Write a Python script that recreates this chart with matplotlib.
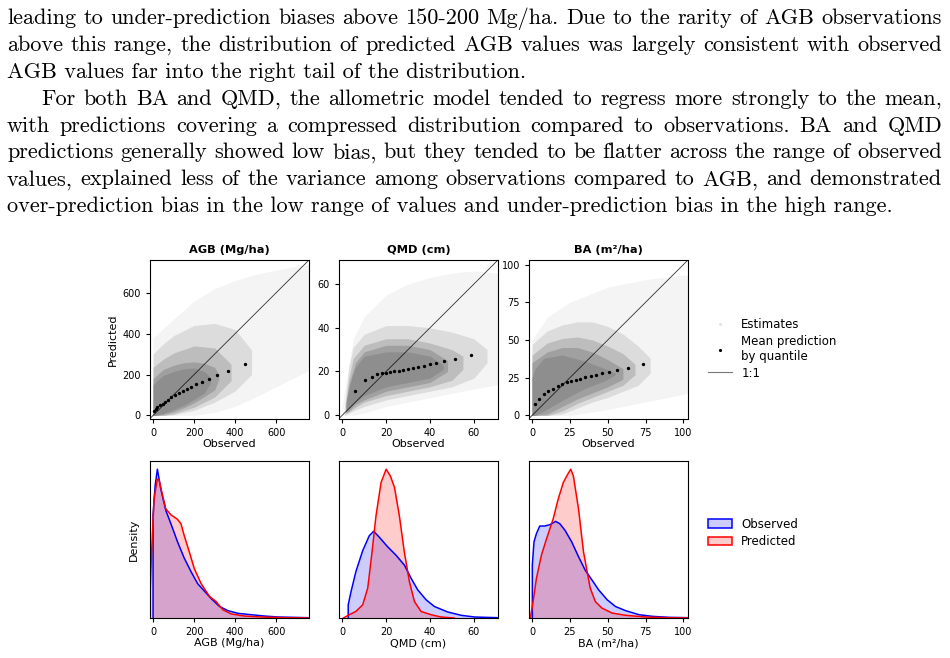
import matplotlib
matplotlib.use('Agg')
import matplotlib.pyplot as plt
from matplotlib.lines import Line2D
from matplotlib.patches import Patch

W, H = 950, 658

# ---------------- paragraph text above the figure ----------------
text_lines = [
    "leading to under-prediction biases above 150-200 Mg/ha. Due to the rarity of AGB observations",
    "above this range, the distribution of predicted AGB values was largely consistent with observed",
    "AGB values far into the right tail of the distribution.",
    "For both BA and QMD, the allometric model tended to regress more strongly to the mean,",
    "with predictions covering a compressed distribution compared to observations.  BA and QMD",
    "predictions generally showed low bias, but they tended to be flatter across the range of observed",
    "values, explained less of the variance among observations compared to AGB, and demonstrated",
    "over-prediction bias in the low range of values and under-prediction bias in the high range.",
]
text_justified = [True, True, False, True, True, True, True, False]
text_indent = [0, 0, 0, 1, 0, 0, 0, 0]

# ---------------- panel info ----------------
titles = ["AGB (Mg/ha)", "QMD (cm)", "BA (m²/ha)"]
limits = [(-15, 760), (-1.5, 71), (-2, 103)]
ticks = [[0, 200, 400, 600], [0, 20, 40, 60], [0, 25, 50, 75, 100]]

# mean prediction by quantile (black dots)
agb_mean_obs = [5, 13, 21, 33, 46, 59, 74, 88, 108, 126, 144, 164, 186, 211, 239, 273, 314, 366, 450]
agb_mean_pred = [23, 31, 39, 49, 58, 66, 75, 88, 101, 110, 120, 130, 141, 154, 165, 180, 196, 217, 250]
qmd_mean_obs = [5.8, 10.4, 13.4, 15.7, 18.0, 20.0, 21.9, 23.8, 25.7, 27.7, 29.9, 32.3, 34.7, 37.3, 40.1, 42.9, 46.6, 51.3, 58.9]
qmd_mean_pred = [11.1, 15.9, 17.7, 18.9, 19.5, 19.5, 19.7, 20.0, 20.3, 20.8, 21.1, 21.4, 22.0, 22.6, 23.3, 24.1, 24.8, 25.9, 27.7]
ba_mean_obs = [1.8, 4.4, 7.6, 10.7, 13.8, 16.9, 20.0, 22.9, 26.0, 29.1, 32.0, 35.3, 38.7, 42.2, 46.2, 50.7, 56.0, 63.1, 73.5]
ba_mean_pred = [7.7, 11.1, 14.2, 16.1, 17.7, 19.2, 20.6, 22.3, 23.0, 23.7, 24.3, 25.2, 26.1, 26.8, 27.9, 29.0, 30.1, 31.6, 34.3]

# extent of the estimate clouds, from sparse outskirts to dense centre
agb_sparse_x = [0, 100, 200, 300, 400, 500, 600, 700, 760]
agb_sparse_lo = [0, 0, 0, 15, 45, 90, 140, 190, 220]
agb_sparse_hi = [380, 470, 560, 620, 660, 690, 710, 730, 735]
agb_light_x = [0, 50, 100, 200, 300, 400, 480]
agb_light_lo = [0, 0, 3, 25, 65, 120, 200]
agb_light_hi = [300, 350, 390, 440, 450, 420, 320]
agb_mid_x = [0, 50, 100, 200, 300, 380]
agb_mid_lo = [0, 0, 8, 40, 90, 170]
agb_mid_hi = [235, 275, 305, 340, 330, 250]
agb_core_x = [0, 50, 100, 150, 200, 250, 300, 320]
agb_core_lo = [0, 5, 18, 38, 62, 92, 125, 175]
agb_core_hi = [180, 225, 245, 258, 262, 255, 235, 200]
agb_dense_x = [0, 25, 50, 100, 150, 200, 250, 280]
agb_dense_lo = [0, 3, 10, 28, 50, 78, 110, 160]
agb_dense_hi = [150, 175, 195, 215, 228, 232, 215, 185]

qmd_sparse_x = [0, 5, 10, 20, 30, 40, 50, 60, 71]
qmd_sparse_lo = [0, 0, 1, 4, 6, 8, 10, 12, 14]
qmd_sparse_hi = [5, 35, 45, 55, 60, 63, 65, 66, 65]
qmd_light_x = [1, 3, 5, 10, 20, 30, 40, 50, 60, 66]
qmd_light_lo = [0, 1, 2, 4, 7, 9, 11, 13, 17, 24]
qmd_light_hi = [4, 22, 31, 37, 41, 41, 40, 38, 35, 30]
qmd_mid_x = [1.5, 3, 5, 10, 20, 30, 40, 50, 55]
qmd_mid_lo = [1, 1.5, 3, 6, 9, 11, 13, 16, 21]
qmd_mid_hi = [5, 17, 26, 32, 35, 35, 33, 30, 27]
qmd_core_x = [1.5, 3, 6, 10, 20, 30, 40, 48]
qmd_core_lo = [1, 2, 5, 7, 11, 13, 15, 20]
qmd_core_hi = [5, 14, 24, 29, 32, 32, 30, 25]
qmd_dense_x = [2, 4, 6, 10, 20, 30, 40, 46]
qmd_dense_lo = [2, 4, 6, 9, 13, 15, 17, 21]
qmd_dense_hi = [7, 16, 22, 27, 29, 29, 27, 23]

ba_sparse_x = [0, 10, 25, 50, 75, 100, 103]
ba_sparse_lo = [0, 0, 0, 4, 9, 14, 15]
ba_sparse_hi = [50, 65, 75, 85, 90, 93, 93]
ba_light_x = [0, 10, 20, 30, 40, 50, 60, 70, 78]
ba_light_lo = [0, 0, 1, 5, 9, 12, 16, 20, 28]
ba_light_hi = [47, 56, 60, 62, 62, 59, 54, 46, 38]
ba_mid_x = [0, 10, 20, 30, 40, 50, 60, 68]
ba_mid_lo = [0, 0, 3, 8, 12, 16, 20, 27]
ba_mid_hi = [40, 48, 51, 52, 50, 46, 41, 34]
ba_core_x = [0, 10, 20, 30, 40, 50, 60]
ba_core_lo = [0, 1, 6, 11, 15, 19, 24]
ba_core_hi = [35, 42, 45, 45, 42, 37, 31]
ba_dense_x = [0, 2, 8, 20, 35, 48, 55]
ba_dense_lo = [0, 0, 3, 10, 18, 23, 27]
ba_dense_hi = [25, 31, 38, 40, 36, 31, 28]

# density curves (relative height)
agb_obs_x = [0, 0, 10, 21, 38, 62, 87, 119, 152, 185, 217, 250, 283, 324, 365, 414, 479, 544, 610, 757]
agb_obs_y = [0, 0.69, 0.885, 0.995, 0.86, 0.72, 0.63, 0.51, 0.40, 0.31, 0.23, 0.18, 0.13, 0.077, 0.049, 0.031, 0.022, 0.013, 0.0066, 0.002]
agb_pred_x = [-25, -16, -8, 5, 21, 29, 46, 62, 87, 119, 136, 152, 177, 201, 234, 275, 307, 340, 381, 446, 528, 643, 757]
agb_pred_y = [0, 0.11, 0.42, 0.80, 0.93, 0.925, 0.82, 0.73, 0.69, 0.66, 0.63, 0.55, 0.44, 0.33, 0.23, 0.144, 0.11, 0.055, 0.027, 0.013, 0.0066, 0.002, 0]

qmd_obs_x = [2.7, 2.7, 4, 6.2, 9.3, 12.3, 14.3, 16.9, 20.7, 24.5, 28.3, 31.4, 34.4, 38.2, 42, 48.1, 54.2, 60.3, 71]
qmd_obs_y = [0, 0.088, 0.177, 0.31, 0.45, 0.55, 0.58, 0.54, 0.476, 0.42, 0.354, 0.265, 0.188, 0.122, 0.077, 0.04, 0.018, 0.0066, 0.002]
qmd_pred_x = [0.5, 3.2, 6.2, 9.3, 11.6, 13.4, 15.4, 17.7, 20, 21.9, 23.8, 26, 28.3, 30.6, 32.9, 35.9, 40.5, 45, 51]
qmd_pred_y = [0, 0.022, 0.044, 0.088, 0.2, 0.42, 0.686, 0.907, 0.995, 0.95, 0.874, 0.686, 0.44, 0.243, 0.11, 0.044, 0.022, 0.0066, 0]

ba_obs_x = [0.2, 0.2, 1.3, 2.9, 5.1, 8.4, 11.8, 15.6, 18.4, 21.8, 26.2, 30.7, 35.1, 39.6, 44, 49.6, 55.1, 61.8, 70.7, 79.5, 90.7, 103.5]
ba_obs_y = [0, 0.354, 0.509, 0.564, 0.615, 0.615, 0.624, 0.646, 0.63, 0.586, 0.509, 0.41, 0.32, 0.254, 0.188, 0.122, 0.077, 0.049, 0.022, 0.011, 0.0044, 0.002]
ba_pred_x = [-1.1, 0.7, 2.9, 6.2, 9.6, 14, 17.3, 20.7, 23.6, 25.6, 27.3, 30.7, 34, 38.4, 41.8, 46.2, 52.9, 61.8, 75.1, 88.4, 103.5]
ba_pred_y = [0, 0.11, 0.265, 0.42, 0.53, 0.664, 0.796, 0.907, 0.962, 0.995, 0.95, 0.73, 0.442, 0.2, 0.11, 0.066, 0.033, 0.018, 0.0066, 0.002, 0]

mean_obs = [agb_mean_obs, qmd_mean_obs, ba_mean_obs]
mean_pred = [agb_mean_pred, qmd_mean_pred, ba_mean_pred]
clouds = [
    [(agb_sparse_x, agb_sparse_lo, agb_sparse_hi), (agb_light_x, agb_light_lo, agb_light_hi),
     (agb_mid_x, agb_mid_lo, agb_mid_hi), (agb_core_x, agb_core_lo, agb_core_hi),
     (agb_dense_x, agb_dense_lo, agb_dense_hi)],
    [(qmd_sparse_x, qmd_sparse_lo, qmd_sparse_hi), (qmd_light_x, qmd_light_lo, qmd_light_hi),
     (qmd_mid_x, qmd_mid_lo, qmd_mid_hi), (qmd_core_x, qmd_core_lo, qmd_core_hi),
     (qmd_dense_x, qmd_dense_lo, qmd_dense_hi)],
    [(ba_sparse_x, ba_sparse_lo, ba_sparse_hi), (ba_light_x, ba_light_lo, ba_light_hi),
     (ba_mid_x, ba_mid_lo, ba_mid_hi), (ba_core_x, ba_core_lo, ba_core_hi),
     (ba_dense_x, ba_dense_lo, ba_dense_hi)],
]
cloud_colors = ["#f4f4f4", "#dcdcdc", "#bdbdbd", "#a0a0a0", "#8e8e8e"]
dens_obs = [(agb_obs_x, agb_obs_y), (qmd_obs_x, qmd_obs_y), (ba_obs_x, ba_obs_y)]
dens_pred = [(agb_pred_x, agb_pred_y), (qmd_pred_x, qmd_pred_y), (ba_pred_x, ba_pred_y)]

fig = plt.figure(figsize=(W / 100, H / 100), dpi=100)

# ---------------- paragraph ----------------
serif = ['cmr10', 'DejaVu Serif']
text_size = 16.0
renderer = fig.canvas.get_renderer()
for i, line in enumerate(text_lines):
    y = 1 - (24 + i * 26.9) / H
    x0 = 7 + 34 * text_indent[i]
    x1 = 942
    if text_justified[i]:
        words = line.split()
        ts = [fig.text(0, y, w, fontsize=text_size, family=serif, va='baseline') for w in words]
        widths = [t.get_window_extent(renderer).width for t in ts]
        gap = (x1 - x0 - sum(widths)) / (len(words) - 1)
        x = x0
        for t, w in zip(ts, widths):
            t.set_x(x / W)
            x += w + gap
    else:
        fig.text(x0 / W, y, line, fontsize=text_size, family=serif, va='baseline')

# ---------------- panels ----------------
lefts = [150, 339, 529]
pw = 159
for i in range(3):
    lo, hi = limits[i]
    # scatter panel
    ax = fig.add_axes([lefts[i] / W, 1 - 418.5 / H, pw / W, 158.5 / H])
    for (cx, clo, chi), col in zip(clouds[i], cloud_colors):
        ax.fill_between(cx, clo, chi, color=col, lw=0, zorder=1)
    ax.plot([lo, hi], [lo, hi], color='k', lw=0.6, alpha=0.8, zorder=2)
    ax.plot(mean_obs[i], mean_pred[i], ls='', marker='o', ms=1.4, color='k', zorder=3)
    ax.set_xlim(lo, hi)
    ax.set_ylim(lo, hi)
    ax.set_xticks(ticks[i])
    ax.set_yticks(ticks[i])
    ax.tick_params(labelsize=7, length=3, width=0.8)
    ax.set_title(titles[i], fontsize=8.2, fontweight='bold', pad=5)
    ax.set_xlabel("Observed", fontsize=8, labelpad=1)
    if i == 0:
        ax.set_ylabel("Predicted", fontsize=8, labelpad=3)
    for s in ax.spines.values():
        s.set_linewidth(0.8)

    # density panel
    ax2 = fig.add_axes([lefts[i] / W, 1 - 618 / H, pw / W, 157 / H])
    ox, oy = dens_obs[i]
    px, py = dens_pred[i]
    ax2.fill_between(ox, oy, color='blue', alpha=0.2, lw=0)
    ax2.plot(ox, oy, color='blue', lw=1.1)
    ax2.fill_between(px, py, color='red', alpha=0.2, lw=0)
    ax2.plot(px, py, color='red', lw=1.1)
    ax2.set_xlim(lo, hi)
    ax2.set_ylim(0, 1.05)
    ax2.set_xticks(ticks[i])
    ax2.set_yticks([])
    ax2.tick_params(labelsize=7, length=3, width=0.8)
    ax2.set_xlabel(titles[i], fontsize=8, labelpad=1)
    if i == 0:
        ax2.set_ylabel("Density", fontsize=8, labelpad=8)
    for s in ax2.spines.values():
        s.set_linewidth(0.8)

# ---------------- legends ----------------
h1 = [
    Line2D([], [], ls='', marker='.', ms=2, color='#e0e0e0'),
    Line2D([], [], ls='', marker='.', ms=2.5, color='k'),
    Line2D([], [], color='#777777', lw=0.8),
]
fig.legend(h1, ["Estimates", "Mean prediction\nby quantile", "1:1"],
           loc='center left', bbox_to_anchor=(697 / W, 1 - 349 / H),
           frameon=False, fontsize=8.5, handlelength=2.1, handletextpad=0.75,
           labelspacing=0.3)

h2 = [Patch(facecolor=(0, 0, 1, 0.2), edgecolor='blue', lw=1.1),
      Patch(facecolor=(1, 0, 0, 0.2), edgecolor='red', lw=1.1)]
fig.legend(h2, ["Observed", "Predicted"],
           loc='center left', bbox_to_anchor=(697 / W, 1 - 533 / H),
           frameon=False, fontsize=8.5, handlelength=2.1, handletextpad=0.75,
           labelspacing=0.4)

fig.savefig("out.png", dpi=100)
